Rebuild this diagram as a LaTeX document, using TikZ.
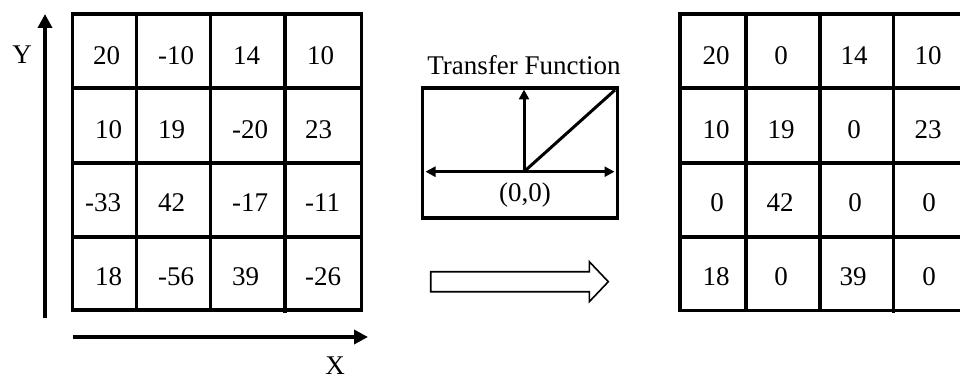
\documentclass[tikz,border=0pt]{standalone}
\usepackage{fontspec}
\setmainfont{Liberation Serif}
\usetikzlibrary{arrows.meta}
\begin{document}
\begin{tikzpicture}[x=1pt,y=-1pt,
  gridline/.style={line width=3.5pt},
  num/.style={font=\fontsize{27}{32}\selectfont, inner sep=0pt},
  lnum/.style={num, anchor=west},
  rnum/.style={num, anchor=center},
  axis/.style={line width=3.5pt, -{Triangle[width=14pt,length=14pt]}},
  tfline/.style={line width=3pt},
  tfarrow/.style={line width=3pt, -{Triangle[width=10pt,length=10pt]}},
  blockarrow/.style={line width=1.6pt, line join=miter}]
\clip (0,0) rectangle (960,379);
\fill[white] (0,0) rectangle (960,379);

% ---------- left grid ----------
\draw[gridline] (72.7,14) rectangle (361.7,310);
\foreach \x in {136.7,210.7} \draw[gridline] (\x,14) -- (\x,310);
\draw[gridline] (285,14) -- (285,313);
\foreach \y in {88,163,237} \draw[gridline] (72.7,\y) -- (360,\y);

\node[lnum] (L11) at (93,56) {20};
\node[lnum] (L12) at (158,56) {-10};
\node[lnum] (L13) at (233,56) {14};
\node[lnum] (L14) at (307,56) {10};
\node[lnum] (L21) at (95,130) {10};
\node[lnum] (L22) at (158,130) {19};
\node[lnum] (L23) at (232,130) {-20};
\node[lnum] (L24) at (305,130) {23};
\node[lnum] (L31) at (85,203) {-33};
\node[lnum] (L32) at (158,203) {42};
\node[lnum] (L33) at (232,203) {-17};
\node[lnum] (L34) at (305,203) {-11};
\node[lnum] (L41) at (95,277) {18};
\node[lnum] (L42) at (158,277) {-56};
\node[lnum] (L43) at (232,277) {39};
\node[lnum] (L44) at (305,277) {-26};

% ---------- axes ----------
\coordinate (ybot) at (45,318);
\coordinate (ytop) at (45,14);
\draw[axis] (ybot) -- (ytop);
\node[num] (ylab) at (22,55) {Y};
\coordinate (xleft) at (73,337);
\coordinate (xright) at (368,337);
\draw[axis] (xleft) -- (xright);
\node[num] (xlab) at (335,366) {X};

% ---------- transfer function ----------
\node[num] (tftitle) at (524,65) {Transfer Function};
\draw[line width=3.5pt] (422.7,88) rectangle (617.3,218);
\coordinate (orig) at (524,171.7);
\coordinate (hl) at (425.5,171.7);
\coordinate (hr) at (614.5,171.7);
\coordinate (vt) at (524,89.5);
\coordinate (dg) at (615,90);
\draw[tfarrow] (orig) -- (hl);
\draw[tfarrow] (orig) -- (hr);
\draw[tfarrow] (orig) -- (vt);
\draw[tfline] (orig) -- (dg);
\node[num] (origlab) at (525,195) {(0,0)};

% ---------- block arrow ----------
\draw[blockarrow] (430.7,271.7) -- (589.3,271.7) -- (589.3,261.7) -- (608.3,281.7)
  -- (589.3,301.7) -- (589.3,291.7) -- (430.7,291.7) -- cycle;

% ---------- right grid ----------
\draw[gridline] (680,14) rectangle (967,310.7);
\foreach \x in {746,820} \draw[gridline] (\x,14) -- (\x,310.7);
\draw[gridline] (893.3,14) -- (893.3,313);
\foreach \y in {88,163,237} \draw[gridline] (680,\y) -- (967,\y);

\node[rnum] (R11) at (716,56) {20};
\node[rnum] (R12) at (781,56) {0};
\node[rnum] (R13) at (854,56) {14};
\node[rnum] (R14) at (928,56) {10};
\node[rnum] (R21) at (716,130) {10};
\node[rnum] (R22) at (781,130) {19};
\node[rnum] (R23) at (854,130) {0};
\node[rnum] (R24) at (928,130) {23};
\node[rnum] (R31) at (717,203) {0};
\node[rnum] (R32) at (780,203) {42};
\node[rnum] (R33) at (855,203) {0};
\node[rnum] (R34) at (929,203) {0};
\node[rnum] (R41) at (716,277) {18};
\node[rnum] (R42) at (781,277) {0};
\node[rnum] (R43) at (853,277) {39};
\node[rnum] (R44) at (929,277) {0};
\end{tikzpicture}
\end{document}
